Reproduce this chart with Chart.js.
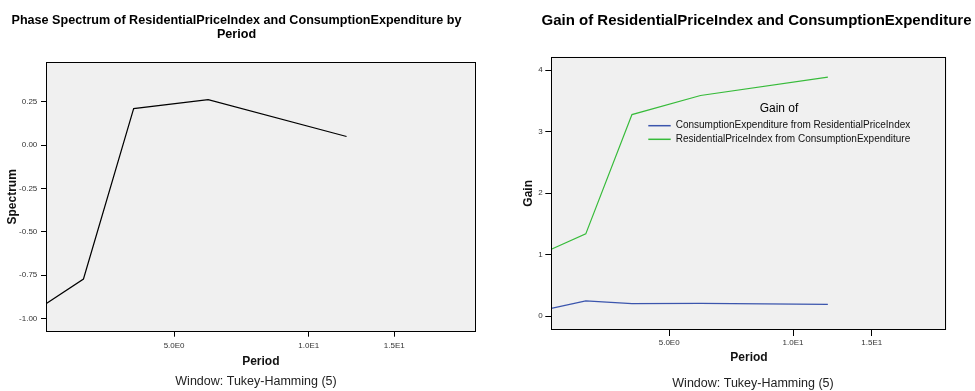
<!DOCTYPE html>
<html>
<head>
<meta charset="utf-8">
<script src="https://cdn.jsdelivr.net/npm/chart.js@4.4.1/dist/chart.umd.min.js"></script>
<style>
  html, body { margin: 0; padding: 0; background: #ffffff; }
  #wrap { position: relative; width: 975px; height: 391px; overflow: hidden; }
  .panel { position: absolute; top: 0; height: 391px; }
</style>
</head>
<body>
<div id="wrap">
  <div class="panel" style="left:0;width:487px"><canvas id="phase" width="487" height="391"></canvas></div>
  <div class="panel" style="left:487px;width:488px"><canvas id="gain" width="488" height="391"></canvas></div>
</div>
<script>
// Periods of the spectral estimates
const periods = [2.4, 3, 4, 6, 12];
// Phase spectrum values
const phaseValues = [-0.916, -0.773, 0.211, 0.263, 0.050];
// Gain values
const gainConsFromPrice = [0.13, 0.25, 0.205, 0.21, 0.195];
const gainPriceFromCons = [1.09, 1.34, 3.28, 3.59, 3.89];
// Axis ticks
const periodTicks = [5, 10, 15];
const periodTickLabels = ['5.0E0', '1.0E1', '1.5E1'];
const phaseTicks = [-1, -0.75, -0.5, -0.25, 0, 0.25];
const gainTicks = [0, 1, 2, 3, 4];

const FONT = "'Liberation Sans', Arial, Helvetica, sans-serif";
Chart.defaults.font.family = FONT;
Chart.defaults.animation = false;

// Period axis drawn on a power-compressed scale
class PowerScale extends Chart.LinearScale {
  static id = 'power';
  static defaults = {};
  configure() {
    super.configure();
    const e = this.options.exponent;
    this._powStart = Math.pow(this.min, e);
    this._powRange = Math.pow(this.max, e) - this._powStart;
  }
  getPixelForValue(value) {
    return this.getPixelForDecimal((Math.pow(value, this.options.exponent) - this._powStart) / this._powRange);
  }
  getValueForPixel(pixel) {
    const d = this.getDecimalForPixel(pixel);
    return Math.pow(this._powStart + d * this._powRange, 1 / this.options.exponent);
  }
}
Chart.register(PowerScale);

// Grey plot background and black frame
const framePlugin = {
  id: 'frame',
  beforeDraw(chart) {
    const { ctx, chartArea: a } = chart;
    ctx.save();
    ctx.fillStyle = '#f0f0f0';
    ctx.fillRect(a.left, a.top, a.right - a.left, a.bottom - a.top);
    ctx.restore();
  },
  afterDraw(chart) {
    const { ctx, chartArea: a } = chart;
    ctx.save();
    ctx.strokeStyle = '#000';
    ctx.lineWidth = 1;
    ctx.strokeRect(Math.round(a.left) + 0.5, Math.round(a.top) + 0.5,
      Math.round(a.right - a.left) - 1, Math.round(a.bottom - a.top) - 1);
    ctx.restore();
  }
};

// Title lines and footnote
const captionsPlugin = {
  id: 'captions',
  afterDraw(chart, args, opts) {
    const ctx = chart.ctx;
    ctx.save();
    ctx.textAlign = 'center';
    ctx.textBaseline = 'middle';
    ctx.fillStyle = '#000';
    ctx.font = opts.titleFont;
    opts.title.forEach((line, i) => ctx.fillText(line, opts.titleX, opts.titleY + i * opts.titleLineGap));
    ctx.font = opts.footerFont;
    ctx.fillStyle = '#222';
    ctx.fillText(opts.footer, opts.footerX, opts.footerY);
    ctx.restore();
  }
};

// Legend placed inside the plot area
const insetLegendPlugin = {
  id: 'insetLegend',
  afterDraw(chart, args, opts) {
    if (!opts.display) return;
    const ctx = chart.ctx;
    ctx.save();
    ctx.fillStyle = '#000';
    ctx.textBaseline = 'middle';
    ctx.textAlign = 'center';
    ctx.font = opts.titleFont;
    ctx.fillText(opts.title, opts.titleX, opts.titleY);
    ctx.textAlign = 'left';
    ctx.font = opts.itemFont;
    chart.data.datasets.forEach((ds, i) => {
      const y = opts.itemY + i * opts.itemGap;
      ctx.strokeStyle = ds.borderColor;
      ctx.lineWidth = 1.5;
      ctx.beginPath();
      ctx.moveTo(opts.lineX0, y);
      ctx.lineTo(opts.lineX1, y);
      ctx.stroke();
      ctx.fillStyle = '#111';
      ctx.fillText(ds.label, opts.textX, y);
    });
    ctx.restore();
  }
};

function periodAxis(height, labelPad, tickLen, titlePadBottom) {
  return {
    type: 'power',
    exponent: 0.15,
    min: 2.4,
    max: 21.6,
    bounds: 'data',
    afterBuildTicks: s => { s.ticks = periodTicks.map(v => ({ value: v })); },
    afterFit: s => { s.height = height; },
    ticks: {
      callback: (v, i) => periodTickLabels[i],
      autoSkip: false, maxRotation: 0, padding: labelPad,
      font: { size: 8 }, color: '#333'
    },
    grid: { display: true, drawOnChartArea: false, drawTicks: true, tickLength: tickLen, tickColor: '#000', lineWidth: 1 },
    border: { display: false },
    title: { display: true, text: 'Period', color: '#111', font: { size: 12, weight: 'bold' }, padding: { top: 0, bottom: titlePadBottom } }
  };
}

function valueAxis(title, min, max, ticks, fmt, width, labelPad, tickLen, titlePadTop) {
  return {
    type: 'linear',
    min: min,
    max: max,
    afterBuildTicks: s => { s.ticks = ticks.map(v => ({ value: v })); },
    afterFit: s => { s.width = width; },
    ticks: { callback: v => fmt(v), padding: labelPad, font: { size: 8 }, color: '#333' },
    grid: { display: true, drawOnChartArea: false, drawTicks: true, tickLength: tickLen, tickColor: '#000', lineWidth: 1 },
    border: { display: false },
    title: { display: true, text: title, color: '#111', font: { size: 12, weight: 'bold' }, padding: { top: titlePadTop, bottom: 0 } }
  };
}

const toPoints = values => periods.map((p, i) => ({ x: p, y: values[i] }));

new Chart(document.getElementById('phase'), {
  type: 'line',
  data: {
    datasets: [{
      label: 'Phase',
      data: toPoints(phaseValues),
      borderColor: '#000000',
      borderWidth: 1.2,
      pointRadius: 0,
      tension: 0,
      fill: false
    }]
  },
  options: {
    responsive: false,
    layout: { padding: { left: 0, right: 11.3, top: 62, bottom: 0 } },
    scales: {
      x: periodAxis(59.3, 4.5, 5, 22.5),
      y: valueAxis('Spectrum', -1.077, 0.48, phaseTicks, v => v.toFixed(2), 46, 3.7, 5, 5.1)
    },
    plugins: {
      legend: { display: false },
      tooltip: { enabled: false },
      captions: {
        title: ['Phase Spectrum of ResidentialPriceIndex and ConsumptionExpenditure by', 'Period'],
        titleFont: "bold 12.6px " + FONT,
        titleX: 236.5, titleY: 20.5, titleLineGap: 13.8,
        footer: 'Window: Tukey-Hamming (5)',
        footerFont: "12.5px " + FONT,
        footerX: 256, footerY: 382
      }
    }
  },
  plugins: [framePlugin, captionsPlugin]
});

new Chart(document.getElementById('gain'), {
  type: 'line',
  data: {
    datasets: [{
      label: 'ConsumptionExpenditure from ResidentialPriceIndex',
      data: toPoints(gainConsFromPrice),
      borderColor: '#3b55ad',
      borderWidth: 1.2,
      pointRadius: 0,
      tension: 0,
      fill: false
    }, {
      label: 'ResidentialPriceIndex from ConsumptionExpenditure',
      data: toPoints(gainPriceFromCons),
      borderColor: '#37bb3a',
      borderWidth: 1.2,
      pointRadius: 0,
      tension: 0,
      fill: false
    }]
  },
  options: {
    responsive: false,
    layout: { padding: { left: 0, right: 28.3, top: 56.7, bottom: 0 } },
    scales: {
      x: periodAxis(61, 2.2, 6, 25.8),
      y: valueAxis('Gain', -0.223, 4.221, gainTicks, v => String(v), 64.3, 2.6, 6, 34.5)
    },
    plugins: {
      legend: { display: false },
      tooltip: { enabled: false },
      captions: {
        title: ['Gain of ResidentialPriceIndex and ConsumptionExpenditure'],
        titleFont: "bold 15px " + FONT,
        titleX: 269.5, titleY: 20.5, titleLineGap: 14,
        footer: 'Window: Tukey-Hamming (5)',
        footerFont: "12.5px " + FONT,
        footerX: 266, footerY: 384
      },
      insetLegend: {
        display: true,
        title: 'Gain of',
        titleFont: "12px " + FONT,
        titleX: 292, titleY: 109,
        itemFont: "10px " + FONT,
        itemY: 125.7, itemGap: 13.6,
        lineX0: 161.3, lineX1: 183.7, textX: 188.7
      }
    }
  },
  plugins: [framePlugin, captionsPlugin, insetLegendPlugin]
});
</script>
</body>
</html>
